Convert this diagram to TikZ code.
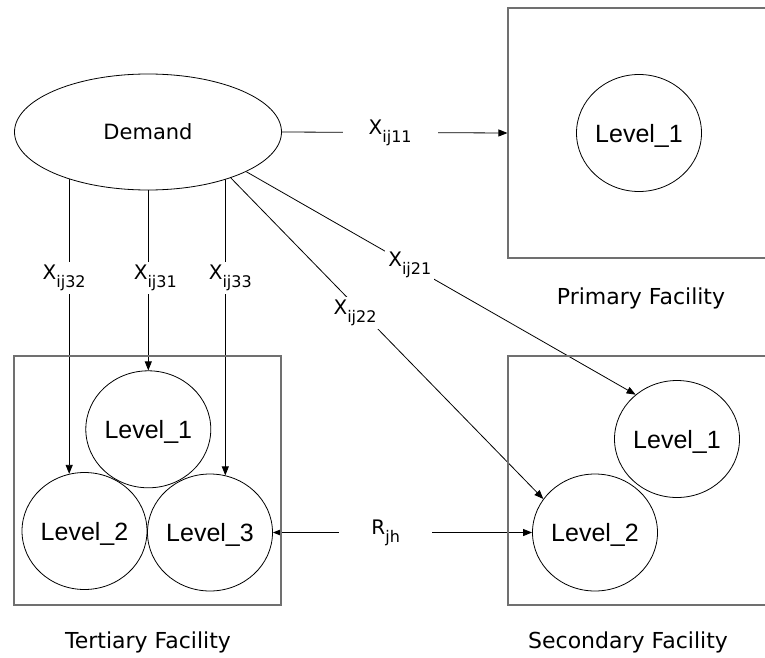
\documentclass[tikz,border=0pt]{standalone}
\usepackage{fontspec}
\setmainfont{DejaVu Sans}
\newfontfamily\lvlfont{Liberation Sans}
\usetikzlibrary{shapes.geometric,arrows.meta}
\pgfdeclarelayer{background}
\pgfsetlayers{background,main}
\definecolor{boxgray}{RGB}{112,112,112}
% flow variable with a lowered index
\newcommand{\varlbl}[2]{{\fontsize{20}{20}\selectfont #1}\raisebox{-8pt}{\fontsize{16}{16}\selectfont #2}}

\begin{document}
\begin{tikzpicture}[x=1pt,y=-1pt,
  facility/.style={draw=boxgray,line width=1.1pt,rectangle,inner sep=0pt},
  lvl/.style={ellipse,draw,line width=0.8pt,minimum width=125pt,minimum height=117pt,
    inner sep=0pt,text depth=0pt,font=\lvlfont\fontsize{25}{25}\selectfont},
  source/.style={ellipse,draw,fill=white,line width=0.8pt,minimum width=267pt,
    minimum height=116pt,inner sep=0pt,font=\fontsize{21}{21}\selectfont},
  caption/.style={anchor=base,inner sep=0pt,font=\fontsize{22}{22}\selectfont},
  tip/.style={Triangle[length=9pt,width=7pt]},
  flow/.style={draw,line width=0.8pt,-{Triangle[length=9pt,width=7pt]}},
  var/.style={fill=white,inner xsep=3pt,inner ysep=3pt}]
\useasboundingbox (0,0) rectangle (765,658);

% facilities
\node[facility,minimum width=258pt,minimum height=250pt] (pbox) at (637,133) {};
\node[facility,minimum width=258pt,minimum height=249pt] (sbox) at (637,480.5) {};
\node[facility,minimum width=267pt,minimum height=249pt] (tbox) at (147.5,480.5) {};

% demand source
\node[source] (dem) at (148,132) {Demand};

% levels inside each facility
\node[lvl] (p1) at (639,133) {Level\_1};
\node[lvl] (s1) at (677,439) {Level\_1};
\node[lvl] (s2) at (595,532.5) {Level\_2};
\node[lvl] (t1) at (148.3,429.3) {Level\_1};
\node[lvl] (t2) at (84.5,531) {Level\_2};
\node[lvl] (t3) at (210,532.5) {Level\_3};

% facility captions
\node[caption] (pcap) at (641,304) {Primary Facility};
\node[caption] (scap) at (628,648) {Secondary Facility};
\node[caption] (tcap) at (148,648) {Tertiary Facility};

% flows
\begin{pgfonlayer}{background}
\path[flow] (dem.east) -- node[var,pos=0.48,inner xsep=26pt] (x11) {\varlbl{X}{ij11}} (pbox.west);
\path[flow] (t2.105 |- dem.center) -- node[var,pos=0.426,xshift=-5pt] (x32) {\varlbl{X}{ij32}} (t2.105);
\path[flow] (t1.north |- dem.center) -- node[var,pos=0.611,xshift=7pt] (x31) {\varlbl{X}{ij31}} (t1.north);
\path[flow] (t3.75 |- dem.center) -- node[var,pos=0.424,xshift=5pt] (x33) {\varlbl{X}{ij33}} (t3.75);
\path[flow] (dem.-22) -- node[var,pos=0.42] (x21) {\varlbl{X}{ij21}} (s1.133);
\path[flow] (dem.-29) -- node[var,pos=0.42,xshift=-7pt] (x22) {\varlbl{X}{ij22}} (s2.147);
\path[flow,{Triangle[length=9pt,width=7pt]}-{Triangle[length=9pt,width=7pt]}]
  (t3.east) -- node[var,pos=0.435,inner xsep=32pt] (rjh) {\varlbl{R}{jh}} (s2.west);
\end{pgfonlayer}
\end{tikzpicture}
\end{document}
